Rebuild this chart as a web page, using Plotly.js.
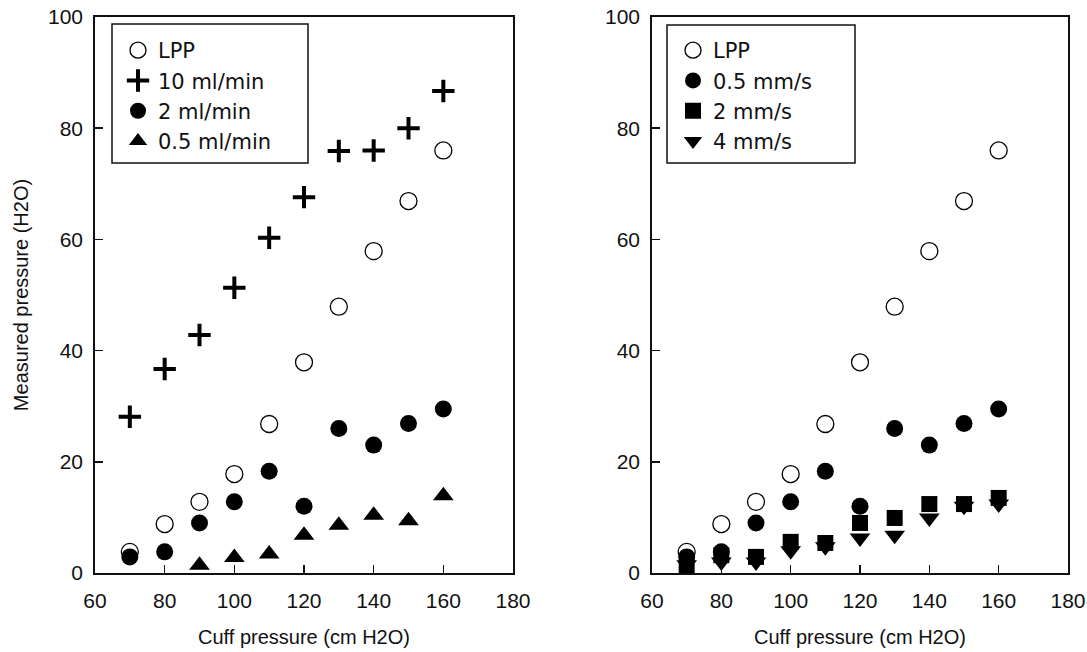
<!DOCTYPE html>
<html>
<head>
<meta charset="utf-8">
<script src="https://cdn.plot.ly/plotly-3.0.1.min.js"></script>
<style>html,body{margin:0;padding:0;background:#fff;}#chart{width:1087px;height:652px;}</style>
</head>
<body>
<div id="chart"></div>
<script>
// Shared x categories (cuff pressure, cm H2O)
const cuff = [70, 80, 90, 100, 110, 120, 130, 140, 150, 160];
const cuffTri = [90, 100, 110, 120, 130, 140, 150, 160];

// Left panel
const lpp = [3.8, 8.8, 12.8, 17.8, 26.8, 37.9, 47.9, 57.9, 66.9, 76.0];
const flow10 = [28.1, 36.7, 42.8, 51.3, 60.3, 67.6, 75.9, 76.0, 80.0, 86.7];
const flow2 = [2.9, 3.8, 9.0, 12.8, 18.3, 12.0, 26.0, 23.0, 26.9, 29.5];
const flow05 = [1.4, 2.8, 3.4, 6.8, 8.6, 10.4, 9.4, 13.9];

// Right panel
const speed05 = [2.9, 3.8, 9.0, 12.8, 18.3, 12.0, 26.0, 23.0, 26.9, 29.5];
const speed2 = [1.0, 3.2, 2.9, 5.6, 5.4, 9.0, 9.9, 12.4, 12.4, 13.5];
const speed4 = [1.5, 2.0, 2.0, 4.0, 4.7, 6.3, 6.8, 9.9, 12.0, 12.4];

const legendLeft = ['LPP', '10 ml/min', '2 ml/min', '0.5 ml/min'];
const legendRight = ['LPP', '0.5 mm/s', '2 mm/s', '4 mm/s'];

const xTicks = [60, 80, 100, 120, 140, 160, 180];
const yTicks = [0, 20, 40, 60, 80, 100];

const FONT = '"Liberation Sans", Arial, Helvetica, sans-serif';
const LFONT = '"DejaVu Sans", Verdana, sans-serif';
const BLACK = '#000';

function openCircle(x, y, name, xa, ya, leg) {
  return {x, y, name, xaxis: xa, yaxis: ya, legend: leg, type: 'scatter', mode: 'markers',
    marker: {symbol: 'circle-open', size: 17, color: BLACK, line: {width: 1.3, color: BLACK}}};
}
function filled(x, y, name, sym, size, xa, ya, leg) {
  return {x, y, name, xaxis: xa, yaxis: ya, legend: leg, type: 'scatter', mode: 'markers',
    marker: {symbol: sym, size: size, color: BLACK, line: {width: 0}}};
}

const traces = [
  openCircle(cuff, lpp, legendLeft[0], 'x', 'y', 'legend'),
  {x: cuff, y: flow10, name: legendLeft[1], xaxis: 'x', yaxis: 'y', legend: 'legend', type: 'scatter', mode: 'markers',
    marker: {symbol: 'cross-thin', size: 16, color: BLACK, line: {width: 4, color: BLACK}}},
  filled(cuff, flow2, legendLeft[2], 'circle', 17, 'x', 'y', 'legend'),
  filled(cuffTri, flow05, legendLeft[3], 'triangle-up', 18, 'x', 'y', 'legend'),

  openCircle(cuff, lpp, legendRight[0], 'x2', 'y2', 'legend2'),
  filled(cuff, speed05, legendRight[1], 'circle', 17, 'x2', 'y2', 'legend2'),
  filled(cuff, speed2, legendRight[2], 'square', 16, 'x2', 'y2', 'legend2'),
  filled(cuff, speed4, legendRight[3], 'triangle-down', 18, 'x2', 'y2', 'legend2')
];

const W = 1087, H = 652;
const yDom = [(H - 573) / H, (H - 17) / H];

function xAxis(dom, anchor) {
  return {domain: dom, anchor: anchor, range: [60, 180], tickvals: xTicks, ticktext: xTicks.map(String),
    ticks: 'inside', ticklen: 8, tickwidth: 1.5, tickcolor: '#111', showgrid: false, zeroline: false,
    showline: true, linecolor: '#111', linewidth: 1.8, mirror: true, ticklabelstandoff: 8,
    tickfont: {family: FONT, size: 21, color: '#111'},
    title: {text: 'Cuff pressure (cm H2O)', font: {family: FONT, size: 20, color: '#111'}, standoff: 19}};
}
function yAxis(anchor, withTitle) {
  const a = {domain: yDom, anchor: anchor, range: [0, 100], tickvals: yTicks, ticktext: yTicks.map(String),
    ticks: 'inside', ticklen: 8, tickwidth: 1.5, tickcolor: '#111', showgrid: false, zeroline: false,
    showline: true, linecolor: '#111', linewidth: 1.8, mirror: true, ticklabelstandoff: 6,
    tickfont: {family: FONT, size: 21, color: '#111'}};
  if (withTitle) a.title = {text: 'Measured pressure (H2O)', font: {family: FONT, size: 20, color: '#111'}, standoff: 14};
  return a;
}

const legendStyle = {xanchor: 'left', yanchor: 'top', bgcolor: 'rgba(0,0,0,0)', borderwidth: 0,
  font: {family: LFONT, size: 21, color: '#111'}, tracegroupgap: 0, itemclick: false};

const boxLine = {color: '#111', width: 1.5};
const layout = {
  width: W, height: H, margin: {l: 0, r: 0, t: 0, b: 0},
  paper_bgcolor: '#fff', plot_bgcolor: '#fff',
  showlegend: true,
  xaxis: xAxis([95 / W, 513 / W], 'y'),
  yaxis: yAxis('x', true),
  xaxis2: xAxis([652 / W, 1068 / W], 'y2'),
  yaxis2: yAxis('x2', false),
  legend: Object.assign({x: 118 / W, y: (H - 30) / H}, legendStyle),
  legend2: Object.assign({x: 673 / W, y: (H - 30) / H}, legendStyle),
  shapes: [
    {type: 'rect', xref: 'paper', yref: 'paper', x0: 112 / W, x1: 308 / W, y0: (H - 163) / H, y1: (H - 24) / H,
      line: boxLine, fillcolor: 'rgba(255,255,255,0)', layer: 'above'},
    {type: 'rect', xref: 'paper', yref: 'paper', x0: 667 / W, x1: 855 / W, y0: (H - 163) / H, y1: (H - 25) / H,
      line: boxLine, fillcolor: 'rgba(255,255,255,0)', layer: 'above'}
  ]
};

Plotly.newPlot('chart', traces, layout, {staticPlot: true, displayModeBar: false});
</script>
</body>
</html>
